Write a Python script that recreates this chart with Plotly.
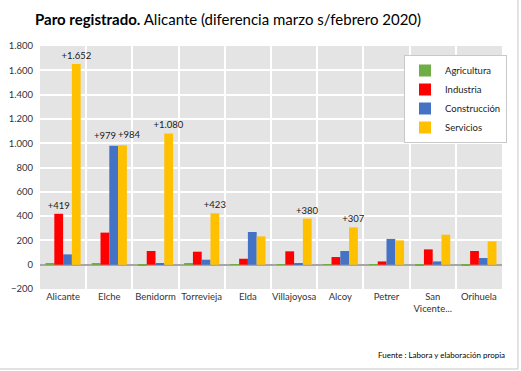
import plotly.graph_objects as go

categories = ["Alicante", "Elche", "Benidorm", "Torrevieja", "Elda", "Villajoyosa",
              "Alcoy", "Petrer", "San<br>Vicente...", "Orihuela"]
agricultura = [8, 8, -8, 8, 2, -2, -2, -2, -6, -6]
industria = [419, 264, 113, 107, 49, 110, 63, 27, 126, 113]
construccion = [85, 979, 11, 41, 269, 14, 113, 212, 27, 55]
servicios = [1652, 984, 1080, 423, 233, 380, 307, 200, 247, 192]

ind_labels = ["+419", "", "", "", "", "", "", "", "", ""]
con_labels = ["", "", "", "", "", "", "", "", "", ""]
ser_labels = ["+1.652", "", "+1.080", "+423", "", "+380", "+307", "", "", ""]
elche_labels = ["+979", "+984"]

colors = {"Agricultura": "#70ad47", "Industria": "#ff0000",
          "Construcción": "#4472c4", "Servicios": "#ffc000"}

FONT = "Lato, Open Sans, sans-serif"

fig = go.Figure()
series = [("Agricultura", agricultura, None),
          ("Industria", industria, ind_labels),
          ("Construcción", construccion, con_labels),
          ("Servicios", servicios, ser_labels)]
for name, vals, labels in series:
    fig.add_trace(go.Bar(
        x=categories, y=vals, name=name,
        marker=dict(color=colors[name], line=dict(width=0)),
        text=labels, textposition="outside" if labels else "none",
        constraintext="none", cliponaxis=False,
        textfont=dict(size=9.5, color="#1a1a1a", family=FONT),
    ))

# Elche labels placed side by side (they would overlap as plain bar text)
for lab, val, shift in [(elche_labels[0], construccion[1], -4),
                        (elche_labels[1], servicios[1], 20)]:
    fig.add_annotation(x=categories[1], y=val, text=lab, showarrow=False,
                       xshift=shift, yshift=3, yanchor="bottom",
                       font=dict(size=9.5, color="#1a1a1a", family=FONT))

fig.update_layout(
    width=521, height=371,
    margin=dict(l=40, r=19, t=46, b=82, autoexpand=False),
    paper_bgcolor="white", plot_bgcolor="#e4e4e4",
    barmode="group", bargap=0.24, bargroupgap=0,
    separators=",.",
    font=dict(family=FONT, size=10, color="#333333"),
    title=dict(
        text="<b>Paro registrado.</b> Alicante (diferencia marzo s/febrero 2020)",
        x=35/521, xanchor="left", xref="container",
        y=1 - 20/371, yanchor="middle", yref="container",
        pad=dict(l=0, r=0, t=0, b=0),
        font=dict(size=15, color="#000000", family=FONT),
    ),
    legend=dict(
        x=(404 - 40) / 462, y=(289 - 55) / 243, xanchor="left", yanchor="top",
        bgcolor="white", bordercolor="#c8c8c8", borderwidth=1,
        font=dict(size=9.5, color="#222222"),
        tracegroupgap=0, itemwidth=30,
    ),
    showlegend=True,
)
fig.update_xaxes(
    type="category", tickson="boundaries", showgrid=True, gridcolor="white",
    gridwidth=2, ticks="", tickfont=dict(size=9.5, color="#333333"),
    tickangle=0, showline=False, zeroline=False, automargin=False,
)
fig.update_yaxes(
    range=[-200, 1800], dtick=200, tickformat=",d",
    showgrid=True, gridcolor="white", gridwidth=2,
    zeroline=True, zerolinecolor="#a6a6a6", zerolinewidth=1.5,
    tickfont=dict(size=9.5, color="#333333"), ticks="", showline=False,
    automargin=False, ticklabelstandoff=6,
)

fig.add_annotation(
    text="Fuente : Labora y elaboración propia", xref="paper", yref="paper",
    x=(507 - 40) / 462, y=(289 - 355) / 243, xanchor="right", yanchor="middle",
    showarrow=False, font=dict(size=8, color="#000000", family=FONT),
)
# outer border (right and bottom)
fig.add_shape(type="line", xref="paper", yref="paper",
              x0=(518 - 40) / 462, x1=(518 - 40) / 462,
              y0=(289 - 369) / 243, y1=(289 - 0) / 243,
              line=dict(color="#d9d9d9", width=1.5))
fig.add_shape(type="line", xref="paper", yref="paper",
              x0=(0 - 40) / 462, x1=(518 - 40) / 462,
              y0=(289 - 369) / 243, y1=(289 - 369) / 243,
              line=dict(color="#d9d9d9", width=1.5))

fig.write_html("out.html", config={"displayModeBar": False},
               post_script="document.body.style.margin='0px';document.body.style.overflow='hidden';")
